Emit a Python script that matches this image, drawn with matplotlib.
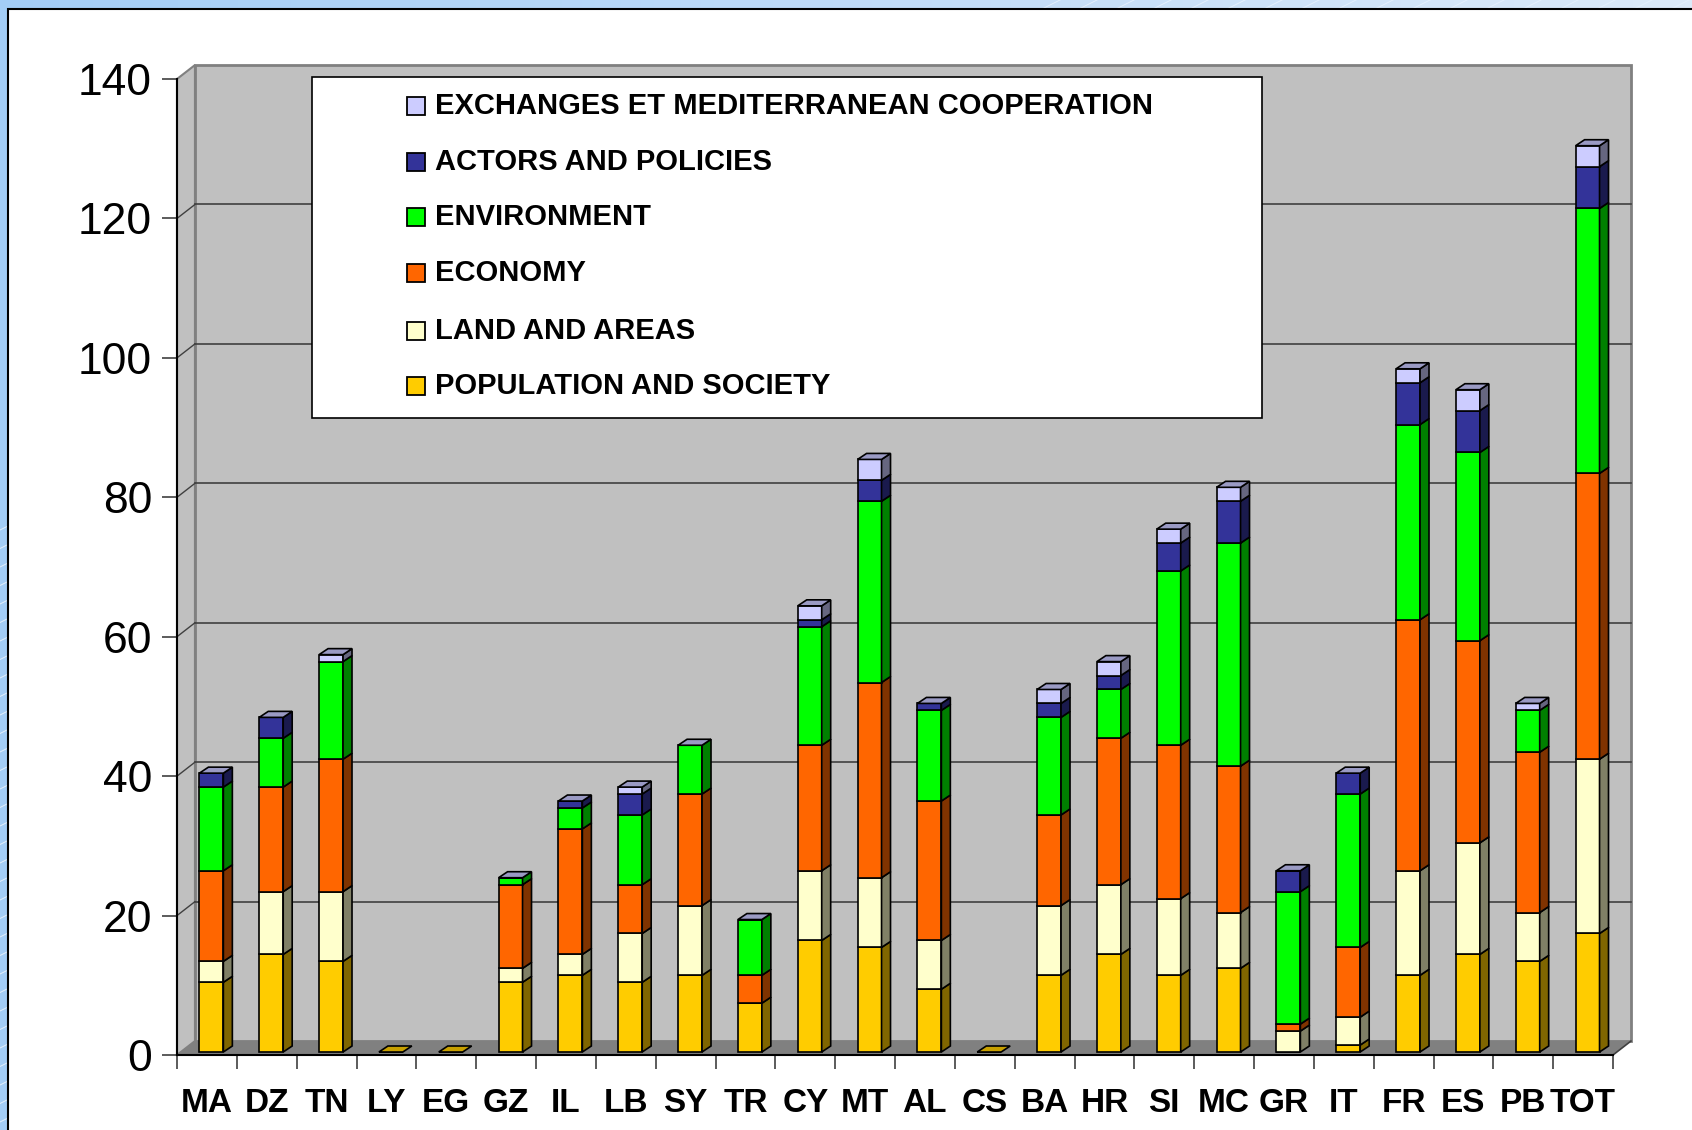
import matplotlib
matplotlib.use("Agg")
import matplotlib.pyplot as plt
import numpy as np
from matplotlib.patches import Polygon, Rectangle
from matplotlib.colors import LinearSegmentedColormap

plt.rcParams['font.family'] = ['Liberation Sans', 'DejaVu Sans']

# data
countries = ['MA', 'DZ', 'TN', 'LY', 'EG', 'GZ', 'IL', 'LB', 'SY', 'TR', 'CY', 'MT',
             'AL', 'CS', 'BA', 'HR', 'SI', 'MC', 'GR', 'IT', 'FR', 'ES', 'PB', 'TOT']
population = [10, 14, 13, 0, 0, 10, 11, 10, 11, 7, 16, 15, 9, 0, 11, 14, 11, 12, 0, 1, 11, 14, 13, 17]
land = [3, 9, 10, 0, 0, 2, 3, 7, 10, 0, 10, 10, 7, 0, 10, 10, 11, 8, 3, 4, 15, 16, 7, 25]
economy = [13, 15, 19, 0, 0, 12, 18, 7, 16, 4, 18, 28, 20, 0, 13, 21, 22, 21, 1, 10, 36, 29, 23, 41]
environment = [12, 7, 14, 0, 0, 1, 3, 10, 7, 8, 17, 26, 13, 0, 14, 7, 25, 32, 19, 22, 28, 27, 6, 38]
actors = [2, 3, 0, 0, 0, 0, 1, 3, 0, 0, 1, 3, 1, 0, 2, 2, 4, 6, 3, 3, 6, 6, 0, 6]
exchanges = [0, 0, 1, 0, 0, 0, 0, 1, 0, 0, 2, 3, 0, 0, 2, 2, 2, 2, 0, 0, 2, 3, 1, 3]

series_names = ['POPULATION AND SOCIETY', 'LAND AND AREAS', 'ECONOMY', 'ENVIRONMENT',
                'ACTORS AND POLICIES', 'EXCHANGES ET MEDITERRANEAN COOPERATION']
series = [population, land, economy, environment, actors, exchanges]
front_cols = ['#FFCC00', '#FFFFCC', '#FF6600', '#00FF00', '#333399', '#CCCCFF']
side_cols = ['#806600', '#808066', '#803300', '#008000', '#1A1A4D', '#666680']
top_cols = ['#C8A000', '#CCCCA3', '#CC5200', '#00CC00', '#29297A', '#9A9AC4']

W, H = 1692, 1130
fig = plt.figure(figsize=(W / 100, H / 100), dpi=100)

# slide background: blue hatched frame + white panel
bg = fig.add_axes([0, 0, 1, 1], zorder=-5)
bg.set_xlim(0, W)
bg.set_ylim(H, 0)
bg.axis('off')
grad = np.linspace(0, 1, 256).reshape(1, -1)
cm = LinearSegmentedColormap.from_list('bgc', ['#a3cdf6', '#dceaf9'])
bg.imshow(grad, cmap=cm, extent=[0, W, H, 0], aspect='auto', zorder=0)
for x0 in np.arange(-1200, W + 40, 37):
    bg.plot([x0, x0 + 2400], [H, H - 1200], color='#e4f0fc', lw=0.7, zorder=1)
bg.add_patch(Rectangle((8, 9), W + 20, H + 20, facecolor='white', edgecolor='black',
                       lw=1.5, zorder=3))

# main chart
ax = fig.add_axes([177 / W, (H - 1055) / H, 1436 / W, 976 / H])
n = len(countries)
xs = np.arange(n)
ax.set_xlim(-0.5, n - 0.5)
ax.set_ylim(0, 140)
ax.patch.set_alpha(0)

WDX, WDY = 0.30, 2.0        # wall depth
BX, BY = 0.075, 0.43        # bar front offset
BDX, BDY = 0.15, 0.86       # bar depth
bw = 0.40

x0, x1 = -0.5, n - 0.5
ax.add_patch(Polygon([(x0 + WDX, WDY), (x1 + WDX, WDY), (x1 + WDX, 140 + WDY), (x0 + WDX, 140 + WDY)],
                     closed=True, facecolor='#c0c0c0', edgecolor='#808080', lw=2, clip_on=False, zorder=0.5))
ax.add_patch(Polygon([(x0, 0), (x0 + WDX, WDY), (x0 + WDX, 140 + WDY), (x0, 140)],
                     closed=True, facecolor='#c0c0c0', edgecolor='#808080', lw=1.5, clip_on=False, zorder=0.5))
ax.add_patch(Polygon([(x0, 0), (x1, 0), (x1 + WDX, WDY), (x0 + WDX, WDY)],
                     closed=True, facecolor='#808080', edgecolor='none', clip_on=False, zorder=0.6))
ax.plot([x1, x1 + WDX], [0, WDY], color='#404040', lw=1.2, clip_on=False, zorder=0.7)
for v in range(20, 140, 20):
    ax.plot([x0 + WDX, x1 + WDX], [v + WDY, v + WDY], color='#404040', lw=1.2, clip_on=False, zorder=0.7)
    ax.plot([x0, x0 + WDX], [v, v + WDY], color='#404040', lw=1.0, clip_on=False, zorder=0.7)

# stacked 3D bars
bottoms = np.zeros(n)
for k, vals in enumerate(series):
    vals = np.array(vals, dtype=float)
    ax.bar(xs + BX, vals, bw, bottom=bottoms + BY, color=front_cols[k],
           edgecolor='black', lw=1.2, zorder=3)
    for i in range(n):
        if vals[i] <= 0:
            continue
        xr = xs[i] + BX + bw / 2
        yb = bottoms[i] + BY
        yt = yb + vals[i]
        ax.add_patch(Polygon([(xr, yb), (xr + BDX, yb + BDY), (xr + BDX, yt + BDY), (xr, yt)],
                             closed=True, facecolor=side_cols[k], edgecolor='black', lw=1.2, zorder=3))
    bottoms += vals

totals = bottoms
for i in range(n):
    xl = xs[i] + BX - bw / 2
    xr = xs[i] + BX + bw / 2
    yt = totals[i] + BY
    col = top_cols[-1] if totals[i] > 0 else top_cols[0]
    ax.add_patch(Polygon([(xl, yt), (xr, yt), (xr + BDX, yt + BDY), (xl + BDX, yt + BDY)],
                         closed=True, facecolor=col, edgecolor='black', lw=1.2, zorder=3.5))

# axes styling
for s in ['top', 'right']:
    ax.spines[s].set_visible(False)
ax.spines['left'].set_linewidth(1.5)
ax.spines['bottom'].set_linewidth(1.5)
ax.set_yticks(range(0, 141, 20))
ax.tick_params(axis='y', length=11, width=1.2, color='#404040', labelsize=32, pad=7)
ax.set_xticks(np.arange(-0.5, n, 1.0))
ax.set_xticklabels([])
ax.set_xticks(xs, minor=True)
ax.set_xticklabels(countries, minor=True, fontsize=24, fontweight='bold')
ax.tick_params(axis='x', which='major', length=10, width=1.2, color='#404040')
ax.tick_params(axis='x', which='minor', length=0, pad=24)

# legend drawn in pixel coordinates
lg = fig.add_axes([0, 0, 1, 1], zorder=5)
lg.set_xlim(0, W)
lg.set_ylim(H, 0)
lg.axis('off')
lg.patch.set_alpha(0)
lg.add_patch(Rectangle((312, 77), 950, 341, facecolor='white', edgecolor='black', lw=1.2))
row_y = [386, 331, 273, 217, 162, 106]
for k in range(len(series_names)):
    lg.add_patch(Rectangle((407, row_y[k] - 9), 18, 18, facecolor=front_cols[k],
                           edgecolor='black', lw=1.3))
    lg.text(435, row_y[k], series_names[k], fontsize=21, fontweight='bold', va='center', ha='left')

fig.savefig('out.png', dpi=100)
